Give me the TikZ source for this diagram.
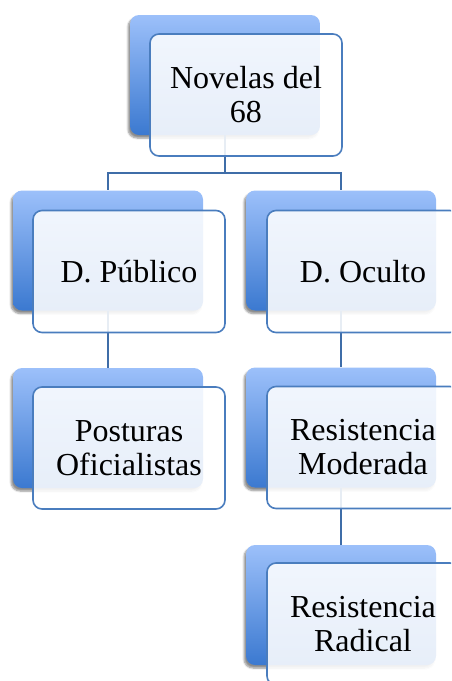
\documentclass[tikz,border=0pt]{standalone}
\usepackage{fontspec}
\setmainfont{Liberation Serif}
\usepackage{tikz}
\usetikzlibrary{shadows.blur}
\usetikzlibrary{positioning}
\definecolor{boxtop}{HTML}{9CC0FA}
\definecolor{boxbot}{HTML}{3B79D0}
\definecolor{boxline}{HTML}{4A7DBE}
\definecolor{linkcol}{HTML}{3F6DA8}

\begin{document}
\begin{tikzpicture}[x=1pt,y=-1pt,
	back/.style={rectangle,rounded corners=9pt,minimum width=190pt,minimum height=120pt,inner sep=0pt,
		top color=boxtop,bottom color=boxbot,draw=none,
		blur shadow={shadow xshift=-2pt,shadow yshift=-3pt,shadow blur steps=6,shadow opacity=45}},
	front/.style={rectangle,rounded corners=9pt,minimum width=192pt,minimum height=122pt,inner sep=2pt,
		draw=boxline,line width=1.6pt,fill=white,fill opacity=0.88,text opacity=1,draw opacity=1,
		align=center,font=\fontsize{32}{34}\selectfont},
	link/.style={draw=linkcol,line width=1.6pt}]
	\clip (0,0) rectangle (451,681);
	\node [back] (novelas) at (225,75) {};
	\node [back] (publico) at (108,250.5) {};
	\node [back] (oculto) at (341,250.5) {};
	\node [back] (posturas) at (108,428) {};
	\node [back] (moderada) at (341,427.5) {};
	\node [back] (radical) at (341,605) {};
	\coordinate (fork) at (225,173);
	\draw [link] (novelas.south) -- (fork) -| (publico.north);
	\draw [link] (fork) -| (oculto.north);
	\draw [link] (publico.south) -- (posturas.north);
	\draw [link] (oculto.south) -- (moderada.north);
	\draw [link] (moderada.south) -- (radical.north);
	\node [front] (novelasF) at ([shift={(21pt,-20pt)}]novelas.center) {Novelas del\\68};
	\node [front] (publicoF) at ([shift={(21pt,-21pt)}]publico.center) {D. Público};
	\node [front] (ocultoF) at ([shift={(22pt,-21pt)}]oculto.center) {D. Oculto};
	\node [front] (posturasF) at ([shift={(21pt,-20pt)}]posturas.center) {Posturas\\Oficialistas};
	\node [front] (moderadaF) at ([shift={(22pt,-20pt)}]moderada.center) {Resistencia\\Moderada};
	\node [front] (radicalF) at ([shift={(22pt,-19pt)}]radical.center) {Resistencia\\Radical};
\end{tikzpicture}
\end{document}
